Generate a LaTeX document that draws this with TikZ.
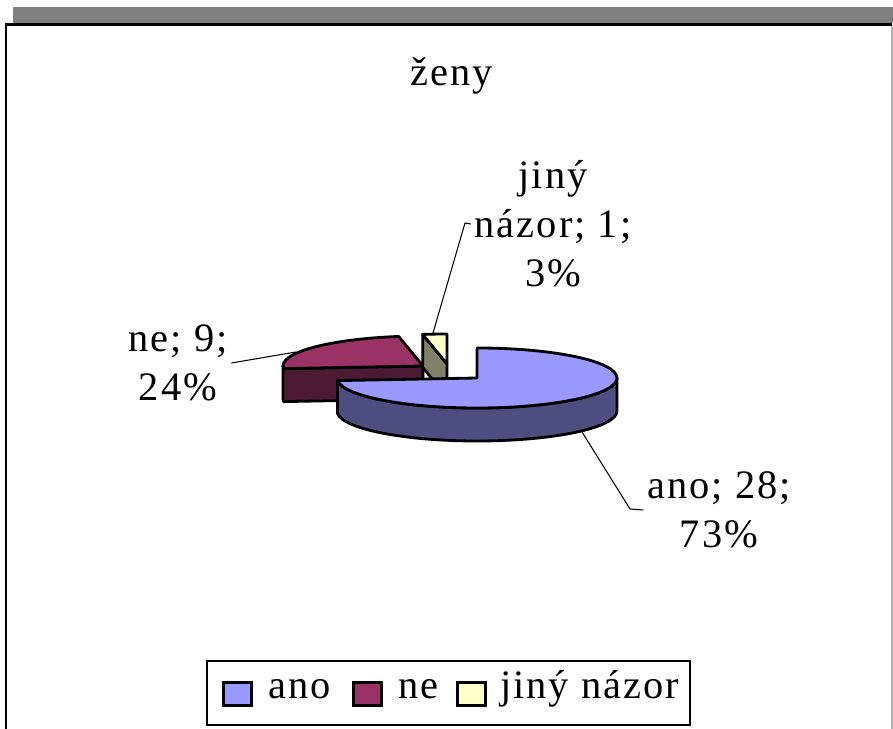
\documentclass[tikz,border=0pt]{standalone}
\usepackage{fontspec}
\setmainfont{Liberation Serif}[LetterSpace=5]
\usetikzlibrary{positioning}

\definecolor{anoTop}{HTML}{9999FF}
\definecolor{anoSide}{HTML}{4D4D80}
\definecolor{neTop}{HTML}{993366}
\definecolor{neSide}{HTML}{4D1A33}
\definecolor{jinyTop}{HTML}{FFFFCC}
\definecolor{jinySide}{HTML}{808066}

\begin{document}
\begin{tikzpicture}[x=0.02cm,y=-0.02cm,
slice/.style={draw=black,line width=1.6pt,line join=round},
lbl/.style={font=\fontsize{23}{28}\selectfont,align=center,inner sep=2pt},
legtxt/.style={font=\fontsize{23}{28}\selectfont,inner sep=1pt,text height=1.45ex,text depth=0.3ex},
leader/.style={draw=black,line width=0.6pt},
key/.style={draw=black,line width=1.8pt,minimum width=0.56cm,minimum height=0.46cm,inner sep=0pt}]
\useasboundingbox (0,0) rectangle (893,729);

% frame
\fill[gray] (13,7) rectangle (893,23);
\draw[gray!60,line width=0.03cm] (892,26) -- (892,729);
\draw[line width=0.06cm] (892,24.5) -- (6,24.5) -- (6,729);

\node (title) [lbl] at (452,76) {ženy};

% pie pieces, back to front
\coordinate (neC) at (423,366);
\coordinate (jinyC) at (447,364);
\coordinate (anoC) at (477,378);

\draw[slice,fill=neSide] (neC) -- ([shift={(175:140 and 30)}]neC)
    arc[start angle=175,end angle=180,x radius=140,y radius=30] -- ++(0,33)
    arc[start angle=180,end angle=175,x radius=140,y radius=30]
    -- ([shift={(0,33)}]neC) -- cycle;
\draw[slice,fill=neTop] (neC) -- ([shift={(175:140 and 30)}]neC)
    arc[start angle=175,end angle=260,x radius=140,y radius=30] -- cycle;

\draw[slice,fill=jinySide] (jinyC) -- ([shift={(260:140 and 30)}]jinyC) -- ++(0,33)
    -- ([shift={(0,33)}]jinyC) -- cycle;
\draw[slice,fill=jinyTop] (jinyC) -- ([shift={(260:140 and 30)}]jinyC)
    arc[start angle=260,end angle=270,x radius=140,y radius=30] -- cycle;

\draw[slice,fill=anoSide] ([shift={(0:140 and 30)}]anoC)
    arc[start angle=0,end angle=175,x radius=140,y radius=30] -- ++(0,33)
    arc[start angle=175,end angle=0,x radius=140,y radius=30] -- cycle;
\draw[slice,fill=anoTop] (anoC) -- ([shift={(-90:140 and 30)}]anoC)
    arc[start angle=-90,end angle=175,x radius=140,y radius=30] -- cycle;

% data labels
\node (jinyLbl) [lbl] at (553,224) {jiný\\názor; 1;\\3\%};
\node (neLbl) [lbl] at (178,363) {ne; 9;\\24\%};
\node (anoLbl) [lbl] at (719,510) {ano; 28;\\73\%};

\coordinate (jinyTip) at (433,333);
\coordinate (jinyBend) at (465,223);
\coordinate (neTip) at (296,352);
\coordinate (anoTip) at (582,432);
\coordinate (anoBend) at (630,509);

\draw[leader] (jinyTip) -- (jinyBend) -- (jinyLbl.west);
\draw[leader] (neTip) -- (neLbl.east);
\draw[leader] (anoTip) -- (anoBend) -- (anoLbl.west);

% legend
\draw[line width=0.6pt] (207,661) rectangle (690,725);
\node (keyAno) [key,fill=anoTop] at (237.5,694) {};
\node (txtAno) [legtxt,right=0.26cm of keyAno] {ano};
\node (keyNe) [key,fill=neTop] at (367.5,694) {};
\node (txtNe) [legtxt,right=0.26cm of keyNe] {ne};
\node (keyJiny) [key,fill=jinyTop] at (471.5,694) {};
\node (txtJiny) [legtxt,right=0.22cm of keyJiny] {jiný názor};
\end{tikzpicture}
\end{document}
